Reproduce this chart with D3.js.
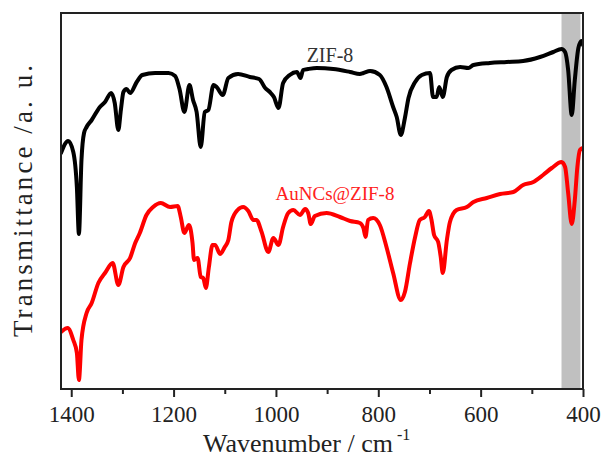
<!DOCTYPE html>
<html>
<head>
<meta charset="utf-8">
<script src="https://cdn.jsdelivr.net/npm/d3@7"></script>
<style>
  html, body { margin: 0; padding: 0; background: #fff; }
  svg { display: block; }
  text { font-family: "Liberation Serif", "DejaVu Serif", serif; }
</style>
</head>
<body>
<script>
// FT-IR spectra (wavenumber in cm^-1, transmittance in arbitrary units, offset for clarity)
const zif8Wavenumber = [1420, 1406, 1396, 1389, 1385, 1380, 1375, 1370, 1360, 1344, 1334, 1322, 1315, 1308, 1303, 1298, 1292, 1285, 1272, 1261, 1236, 1210, 1197, 1188, 1179, 1169, 1162, 1155, 1147, 1139, 1132, 1122, 1116, 1104, 1093, 1074, 1051, 1033, 1021, 1012, 1004, 995, 986, 973, 959, 952, 947, 937, 920, 888, 855, 836, 829, 816, 797, 784, 771, 764, 756, 748, 741, 728, 715, 699, 693, 686, 681, 674, 666, 657, 640, 624, 614, 582, 549, 517, 484, 458, 442, 435, 429, 422, 416, 409, 403, 400];
const zif8Transmittance = [236, 248, 237, 202, 155, 229, 256, 262, 269, 282, 287, 296, 286, 259, 279, 297, 300, 296, 307, 314, 316, 316, 313, 299, 277, 304, 289, 277, 242, 277, 279, 304, 302, 294, 311, 315, 312, 310, 301, 297, 292, 281, 306, 314, 317, 311, 319, 320, 321, 320, 317, 315, 316, 318, 314, 302, 282, 272, 254, 271, 291, 307, 314, 316, 292, 292, 302, 292, 312, 319, 322, 321, 324, 326, 327, 328, 332, 337, 340, 337, 319, 274, 309, 341, 348, 344];

const aunczifWavenumber = [1420, 1407, 1396, 1389, 1385, 1380, 1370, 1360, 1347, 1334, 1319, 1308, 1298, 1285, 1275, 1266, 1253, 1240, 1225, 1207, 1192, 1186, 1179, 1170, 1163, 1160, 1153, 1147, 1142, 1137, 1131, 1124, 1119, 1109, 1100, 1093, 1087, 1075, 1064, 1054, 1044, 1038, 1028, 1015, 1005, 995, 986, 976, 966, 953, 943, 937, 932, 924, 901, 875, 855, 836, 829, 825, 820, 810, 797, 784, 771, 756, 748, 738, 728, 719, 709, 701, 696, 691, 683, 678, 674, 666, 660, 647, 627, 614, 588, 562, 536, 517, 497, 478, 461, 442, 435, 429, 422, 416, 411, 406, 400];
const aunczifTransmittance = [57, 61, 49, 36, 9, 49, 76, 86, 106, 116, 126, 104, 122, 131, 146, 156, 174, 182, 186, 182, 183, 172, 156, 164, 146, 129, 131, 112, 111, 101, 122, 144, 144, 135, 142, 149, 167, 179, 182, 178, 169, 169, 157, 137, 151, 144, 162, 176, 179, 174, 180, 176, 165, 173, 176, 172, 168, 166, 161, 152, 169, 171, 164, 142, 116, 89, 97, 126, 152, 169, 172, 178, 169, 154, 147, 132, 116, 149, 167, 179, 182, 187, 191, 195, 197, 204, 207, 214, 221, 227, 222, 196, 165, 189, 222, 239, 241];

const seriesNames = ["ZIF-8", "AuNCs@ZIF-8"];
const seriesColors = ["#000000", "#ff0000"];
const majorTicks = [1400, 1200, 1000, 800, 600, 400];
const minorTicks = [1300, 1100, 900, 700, 500];
const bandRange = [442, 405];

const W = 606, H = 457;
const margin = { left: 61, right: 23, top: 13, bottom: 68 };
const pw = W - margin.left - margin.right;
const ph = H - margin.top - margin.bottom;

const svg = d3.select("body").append("svg").attr("width", W).attr("height", H);

const x = d3.scaleLinear().domain([1420, 400]).range([margin.left, margin.left + pw]);
const y = d3.scaleLinear().domain([0, 376]).range([margin.top + ph, margin.top]);

svg.append("defs").append("clipPath").attr("id", "plot-clip")
  .append("rect").attr("x", margin.left).attr("y", margin.top).attr("width", pw).attr("height", ph);

// highlighted band
svg.append("rect")
  .attr("x", x(bandRange[0])).attr("y", margin.top)
  .attr("width", x(bandRange[1]) - x(bandRange[0])).attr("height", ph)
  .attr("fill", "#c0c0c0");

const line = d3.line()
  .x(d => x(d[0])).y(d => y(d[1]))
  .curve(d3.curveMonotoneX);

const spectra = [
  d3.zip(zif8Wavenumber, zif8Transmittance),
  d3.zip(aunczifWavenumber, aunczifTransmittance)
];

const plot = svg.append("g").attr("clip-path", "url(#plot-clip)");
spectra.forEach((pts, i) => {
  plot.append("path")
    .datum(pts.slice().sort((a, b) => b[0] - a[0]))
    .attr("d", line)
    .attr("fill", "none")
    .attr("stroke", seriesColors[i])
    .attr("stroke-width", 4)
    .attr("stroke-linejoin", "round")
    .attr("stroke-linecap", "round");
});

// series labels
svg.append("text")
  .attr("x", 330).attr("y", 62)
  .attr("text-anchor", "middle")
  .attr("font-size", 20).attr("fill", "#333")
  .text(seriesNames[0]);
svg.append("text")
  .attr("x", 335).attr("y", 200)
  .attr("text-anchor", "middle")
  .attr("font-size", 19).attr("fill", "#ff2020")
  .text(seriesNames[1]);

// x axis: major and minor ticks
const axisMajor = d3.axisBottom(x).tickValues(majorTicks).tickSize(8).tickSizeOuter(0).tickFormat(d3.format("d"));
const gx = svg.append("g").attr("transform", `translate(0,${margin.top + ph})`).call(axisMajor);
gx.select(".domain").remove();
gx.selectAll(".tick line").attr("stroke", "#222").attr("stroke-width", 2);
gx.selectAll(".tick text")
  .attr("y", 33).attr("dy", 0)
  .attr("font-size", 23).attr("fill", "#222")
  .style("font-family", "'Liberation Serif', serif");

const axisMinor = d3.axisBottom(x).tickValues(minorTicks).tickSize(5).tickSizeOuter(0).tickFormat("");
const gm = svg.append("g").attr("transform", `translate(0,${margin.top + ph})`).call(axisMinor);
gm.select(".domain").remove();
gm.selectAll(".tick line").attr("stroke", "#222").attr("stroke-width", 2);

// frame
svg.append("rect")
  .attr("x", margin.left).attr("y", margin.top)
  .attr("width", pw).attr("height", ph)
  .attr("fill", "none").attr("stroke", "#222").attr("stroke-width", 2);

// axis titles
const xt = svg.append("text")
  .attr("x", 203).attr("y", 452)
  .attr("font-size", 26).attr("fill", "#222");
xt.append("tspan").text("Wavenumber / cm");
xt.append("tspan").attr("dx", 4).attr("dy", -12).attr("font-size", 16).text("-1");

svg.append("text")
  .attr("transform", `translate(32,${margin.top + ph / 2}) rotate(-90)`)
  .attr("text-anchor", "middle")
  .attr("font-size", 27).attr("fill", "#222")
  .attr("textLength", 272).attr("lengthAdjust", "spacing")
  .text("Transmittance /a. u.");
</script>
</body>
</html>
